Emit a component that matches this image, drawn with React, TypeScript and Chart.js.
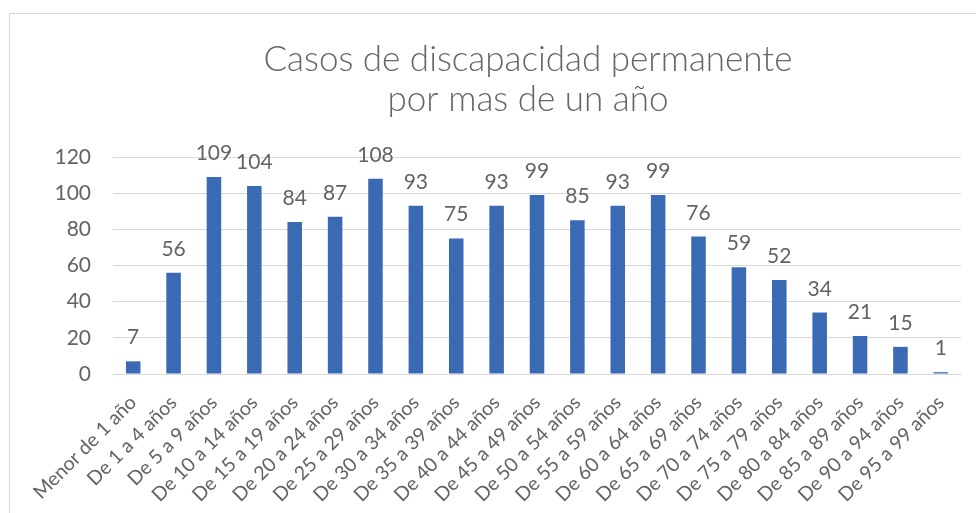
import React, { useEffect, useRef } from "react";
import { Chart, registerables } from "chart.js";

Chart.register(...registerables);

const TITLE_LINES = ["Casos de discapacidad permanente", "por mas de un año"];
const CATEGORIES = [
  "Menor de 1 año",
  "De 1 a 4 años",
  "De 5 a 9 años",
  "De 10 a 14 años",
  "De 15 a 19 años",
  "De 20 a 24 años",
  "De 25 a 29 años",
  "De 30 a 34 años",
  "De 35 a 39 años",
  "De 40 a 44 años",
  "De 45 a 49 años",
  "De 50 a 54 años",
  "De 55 a 59 años",
  "De 60 a 64 años",
  "De 65 a 69 años",
  "De 70 a 74 años",
  "De 75 a 79 años",
  "De 80 a 84 años",
  "De 85 a 89 años",
  "De 90 a 94 años",
  "De 95 a 99 años",
];
const CASES = [7, 56, 109, 104, 84, 87, 108, 93, 75, 93, 99, 85, 93, 99, 76, 59, 52, 34, 21, 15, 1];
const Y_MIN = 0;
const Y_MAX = 120;
const Y_STEP = 20;

const FONT = "Lato, 'Open Sans', sans-serif";
const TEXT = "#636363";
const GRID = "#d9d9d9";
const BAR = "#3b6ab4";

const frameAndTitle = {
  id: "frameAndTitle",
  beforeDraw(chart: any) {
    const ctx = chart.ctx;
    ctx.save();
    ctx.fillStyle = "#ffffff";
    ctx.fillRect(0, 0, chart.width, chart.height);
    ctx.strokeStyle = GRID;
    ctx.lineWidth = 1;
    ctx.strokeRect(9.5, 13.5, chart.width + 20, chart.height + 20);
    ctx.fillStyle = "#666666";
    ctx.font = `300 35px ${FONT}`;
    ctx.textAlign = "center";
    ctx.textBaseline = "alphabetic";
    const cx = 528;
    TITLE_LINES.forEach((line, i) => {
      ctx.fillText(line, cx, 71 + i * 40);
    });
    ctx.restore();
  },
};

const valueLabels = {
  id: "valueLabels",
  afterDatasetsDraw(chart: any) {
    const ctx = chart.ctx;
    const meta = chart.getDatasetMeta(0);
    const data = chart.data.datasets[0].data;
    ctx.save();
    ctx.fillStyle = TEXT;
    ctx.font = `21px ${FONT}`;
    ctx.textAlign = "center";
    ctx.textBaseline = "alphabetic";
    meta.data.forEach((el: any, i: number) => {
      ctx.fillText(String(data[i]), el.x, el.y - 17);
    });
    ctx.restore();
  },
};

export default function App() {
  const ref = useRef<HTMLCanvasElement | null>(null);
  useEffect(() => {
    if (!ref.current) return;
    const chart = new Chart(ref.current, {
      type: "bar",
      data: {
        labels: CATEGORIES,
        datasets: [
          {
            data: CASES,
            backgroundColor: BAR,
            borderWidth: 0,
            barPercentage: 0.36,
            categoryPercentage: 1,
          },
        ],
      },
      options: {
        animation: false,
        responsive: true,
        maintainAspectRatio: false,
        layout: { padding: { top: 157, right: 15, bottom: 0, left: 0 } },
        plugins: {
          legend: { display: false },
          title: { display: false },
          tooltip: { enabled: false },
        },
        scales: {
          x: {
            grid: { display: false, drawTicks: false },
            border: { display: true, color: GRID, width: 1 },
            ticks: {
              color: TEXT,
              font: { family: FONT, size: 19.5 },
              minRotation: 45,
              maxRotation: 45,
              autoSkip: false,
              padding: 17,
            },
            afterFit(scale: any) {
              scale.height = 139;
            },
          },
          y: {
            min: Y_MIN,
            max: Y_MAX,
            grid: { color: GRID, lineWidth: 1, drawTicks: false },
            border: { display: false },
            ticks: {
              stepSize: Y_STEP,
              color: TEXT,
              font: { family: FONT, size: 21 },
              padding: 22,
            },
            afterFit(scale: any) {
              scale.width = 113;
            },
          },
        },
      },
      plugins: [frameAndTitle, valueLabels],
    });
    return () => chart.destroy();
  }, []);
  return (
    <div style={{ position: "fixed", left: 0, top: 0, width: 976, height: 513 }}>
      <canvas ref={ref} />
    </div>
  );
}
